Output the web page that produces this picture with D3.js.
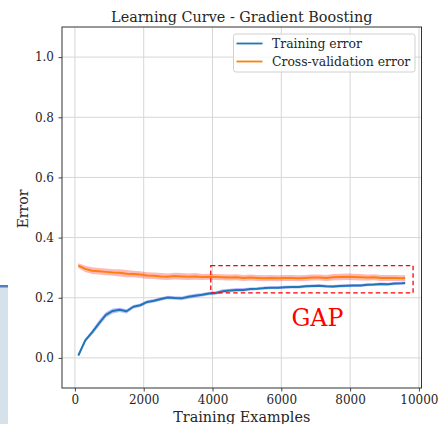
<!DOCTYPE html>
<html>
<head>
<meta charset="utf-8">
<script src="https://cdn.jsdelivr.net/npm/d3@7"></script>
<style>
  html, body { margin: 0; padding: 0; background: #fff; }
  svg { display: block; }
  text { font-family: "DejaVu Serif", serif; }
</style>
</head>
<body>
<svg id="chart" width="446" height="424"></svg>
<script>
// Training-set sizes used for the learning curve
const trainSizes = [100, 300, 500, 700, 900, 1100, 1300, 1500, 1700, 1900,
  2100, 2300, 2500, 2700, 2900, 3100, 3300, 3500, 3700, 3900,
  4100, 4300, 4500, 4700, 4900, 5100, 5300, 5500, 5700, 5900,
  6100, 6300, 6500, 6700, 6900, 7100, 7300, 7500, 7700, 7900,
  8100, 8300, 8500, 8700, 8900, 9100, 9300, 9500, 9600];

// Mean training error per size
const trainError = [0.008, 0.058, 0.085, 0.115, 0.143, 0.156, 0.160, 0.155, 0.170, 0.175,
  0.186, 0.190, 0.196, 0.201, 0.199, 0.198, 0.203, 0.207, 0.210, 0.214,
  0.216, 0.222, 0.224, 0.226, 0.226, 0.229, 0.230, 0.232, 0.233, 0.233,
  0.235, 0.236, 0.236, 0.238, 0.239, 0.240, 0.238, 0.237, 0.239, 0.240,
  0.241, 0.241, 0.243, 0.244, 0.246, 0.245, 0.247, 0.248, 0.249];

// Spread (std) of training error across folds
const trainStd = [0.004, 0.006, 0.008, 0.010, 0.009, 0.008, 0.007, 0.007, 0.006, 0.006,
  0.006, 0.006, 0.006, 0.006, 0.006, 0.006, 0.006, 0.006, 0.006, 0.006,
  0.006, 0.006, 0.006, 0.006, 0.006, 0.005, 0.005, 0.005, 0.005, 0.005,
  0.005, 0.005, 0.005, 0.005, 0.005, 0.005, 0.005, 0.005, 0.005, 0.005,
  0.005, 0.005, 0.005, 0.005, 0.005, 0.005, 0.005, 0.005, 0.005];

// Mean cross-validation error per size
const cvError = [0.307, 0.296, 0.290, 0.288, 0.286, 0.284, 0.283, 0.280, 0.279, 0.277,
  0.274, 0.273, 0.271, 0.270, 0.272, 0.271, 0.270, 0.271, 0.269, 0.270,
  0.269, 0.268, 0.267, 0.268, 0.266, 0.267, 0.266, 0.265, 0.266, 0.265,
  0.266, 0.266, 0.265, 0.266, 0.267, 0.267, 0.266, 0.268, 0.269, 0.270,
  0.269, 0.268, 0.267, 0.268, 0.266, 0.266, 0.266, 0.265, 0.266];

// Spread (std) of cross-validation error across folds
const cvStd = [0.008, 0.010, 0.011, 0.011, 0.011, 0.011, 0.012, 0.012, 0.011, 0.011,
  0.011, 0.011, 0.011, 0.011, 0.011, 0.011, 0.011, 0.011, 0.010, 0.010,
  0.010, 0.010, 0.010, 0.010, 0.010, 0.010, 0.010, 0.010, 0.010, 0.010,
  0.010, 0.010, 0.010, 0.010, 0.010, 0.010, 0.010, 0.011, 0.011, 0.011,
  0.011, 0.011, 0.010, 0.010, 0.010, 0.010, 0.010, 0.010, 0.010];

const xTicks = [0, 2000, 4000, 6000, 8000, 10000];
const yTicks = [0.0, 0.2, 0.4, 0.6, 0.8, 1.0];
const seriesNames = ["Training error", "Cross-validation error"];

// Region highlighted as the train/validation gap
const gapBox = { x0: 3950, x1: 9830, y0: 0.216, y1: 0.307 };
const gapLabel = { text: "GAP", x: 7050, y: 0.107 };

const svg = d3.select("#chart");

// Panel fragment at the left edge
svg.append("rect").attr("x", 0).attr("y", 286).attr("width", 8).attr("height", 138)
  .attr("fill", "#d5e1eb");
svg.append("rect").attr("x", 0).attr("y", 285).attr("width", 8).attr("height", 2.5)
  .attr("fill", "#4f80c2");

const plot = { left: 62, right: 421.5, top: 27, bottom: 388 };

const x = d3.scaleLinear().domain([-375, 10075]).range([plot.left, plot.right]);
const y = d3.scaleLinear().domain([-0.1, 1.1]).range([plot.bottom, plot.top]);

// Grid
const grid = svg.append("g").attr("stroke", "#d6d6d6").attr("stroke-width", 1);
xTicks.forEach(t => grid.append("line")
  .attr("x1", x(t)).attr("x2", x(t)).attr("y1", plot.top).attr("y2", plot.bottom));
yTicks.forEach(t => grid.append("line")
  .attr("y1", y(t)).attr("y2", y(t)).attr("x1", plot.left).attr("x2", plot.right));

// Bands
const trainRows = trainSizes.map((s, i) => ({ s, m: trainError[i], sd: trainStd[i] }));
const cvRows = trainSizes.map((s, i) => ({ s, m: cvError[i], sd: cvStd[i] }));

const band = d3.area().x(d => x(d.s)).y0(d => y(d.m - d.sd)).y1(d => y(d.m + d.sd));
svg.append("path").datum(cvRows).attr("d", band).attr("fill", "red").attr("opacity", 0.28);
svg.append("path").datum(trainRows).attr("d", band).attr("fill", "blue").attr("opacity", 0.26);

// Mean curves
const line = d3.line().x(d => x(d.s)).y(d => y(d.m));
svg.append("path").datum(trainRows).attr("d", line).attr("fill", "none")
  .attr("stroke", "#1f77b4").attr("stroke-width", 2).attr("stroke-linejoin", "round");
svg.append("path").datum(cvRows).attr("d", line).attr("fill", "none")
  .attr("stroke", "#ff7f0e").attr("stroke-width", 2).attr("stroke-linejoin", "round");

// Gap annotation
svg.append("rect")
  .attr("x", x(gapBox.x0)).attr("y", y(gapBox.y1))
  .attr("width", x(gapBox.x1) - x(gapBox.x0)).attr("height", y(gapBox.y0) - y(gapBox.y1))
  .attr("fill", "none").attr("stroke", "red").attr("stroke-width", 1.3)
  .attr("stroke-dasharray", "4.5,3");
svg.append("text").attr("x", x(gapLabel.x)).attr("y", y(gapLabel.y))
  .attr("text-anchor", "middle").attr("fill", "red").attr("font-size", 23.7)
  .text(gapLabel.text);

// Axes
const xAxis = d3.axisBottom(x).tickValues(xTicks).tickFormat(d3.format("d"))
  .tickSize(3.5).tickPadding(3.5);
const yAxis = d3.axisLeft(y).tickValues(yTicks).tickFormat(d3.format(".1f"))
  .tickSize(3.5).tickPadding(4.5);

const gx = svg.append("g").attr("transform", `translate(0,${plot.bottom})`).call(xAxis);
const gy = svg.append("g").attr("transform", `translate(${plot.left},0)`).call(yAxis);
[gx, gy].forEach(g => {
  g.select(".domain").remove();
  g.selectAll(".tick line").attr("stroke", "#333").attr("stroke-width", 0.9);
  g.selectAll(".tick text").attr("fill", "#262626").attr("font-size", 12)
    .attr("font-family", "DejaVu Serif");
});

// Frame
svg.append("rect").attr("x", plot.left).attr("y", plot.top)
  .attr("width", plot.right - plot.left).attr("height", plot.bottom - plot.top)
  .attr("fill", "none").attr("stroke", "#333").attr("stroke-width", 1);

// Titles
svg.append("text").attr("x", (plot.left + plot.right) / 2).attr("y", 21.5)
  .attr("text-anchor", "middle").attr("font-size", 14.4).attr("fill", "#262626")
  .text("Learning Curve - Gradient Boosting");
svg.append("text").attr("x", (plot.left + plot.right) / 2).attr("y", 422)
  .attr("text-anchor", "middle").attr("font-size", 14.4).attr("fill", "#262626")
  .text("Training Examples");
svg.append("text").attr("transform", "translate(28,209) rotate(-90)")
  .attr("text-anchor", "middle").attr("font-size", 14).attr("fill", "#262626")
  .text("Error");

// Legend
const legend = svg.append("g");
legend.append("rect").attr("x", 233.5).attr("y", 34).attr("width", 181.5).attr("height", 38)
  .attr("rx", 2.5).attr("fill", "white").attr("fill-opacity", 0.8)
  .attr("stroke", "#d0d0d0").attr("stroke-width", 1);
const legendColors = ["#1f77b4", "#ff7f0e"];
seriesNames.forEach((name, i) => {
  const ly = 43.5 + i * 18;
  legend.append("line").attr("x1", 236.5).attr("x2", 262.5).attr("y1", ly).attr("y2", ly)
    .attr("stroke", legendColors[i]).attr("stroke-width", 1.8);
  legend.append("text").attr("x", 272).attr("y", ly + 4.3).attr("font-size", 12.4)
    .attr("fill", "#262626").text(name);
});
</script>
</body>
</html>
